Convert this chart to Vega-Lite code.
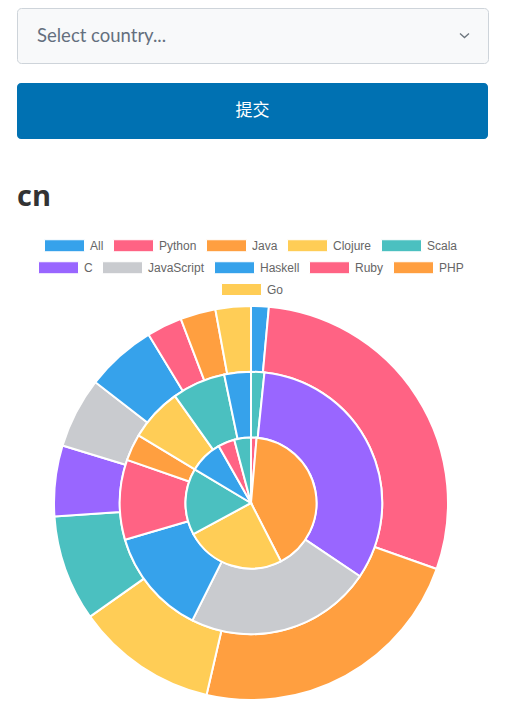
{
  "$schema": "https://vega.github.io/schema/vega-lite/v6.json",
  "padding": {"left": 16, "top": 7, "right": 0, "bottom": 0},
  "spacing": 44,
  "background": "#ffffff",
  "config": {"view": {"stroke": null}, "font": "Liberation Sans"},
  "resolve": {"scale": {"color": "independent", "theta": "independent"}, "legend": {"color": "independent"}},
  "vconcat": [
    {
      "spacing": 19,
      "resolve": {"scale": {"x": "independent"}},
      "vconcat": [
        {
          "width": 471,
          "height": 55,
          "view": {"fill": "#f8f9fa", "stroke": "#ced4da", "strokeWidth": 1, "cornerRadius": 4},
          "data": {"values": [{"part": "placeholder", "label": "Select country..."}, {"part": "arrow", "label": ""}]},
          "encoding": {
            "x": {"field": "part", "type": "nominal", "axis": null, "scale": {"type": "point", "domain": ["placeholder", "arrow"], "range": [20, 447.5], "padding": 0}}
          },
          "layer": [
            {
              "transform": [{"filter": "datum.part === 'placeholder'"}],
              "mark": {"type": "text", "align": "left", "baseline": "middle", "font": "Lato", "fontSize": 18.5, "color": "#646f7e"},
              "encoding": {"text": {"field": "label"}}
            },
            {
              "transform": [{"filter": "datum.part === 'arrow'"}],
              "mark": {"type": "point", "shape": "M-1,-0.45L0,0.45L1,-0.45", "size": 81, "filled": false, "stroke": "#6c757d", "strokeWidth": 1.3, "opacity": 1}
            }
          ]
        },
        {
          "width": 471,
          "height": 56,
          "view": {"fill": "#0071b2", "stroke": null, "cornerRadius": 4},
          "data": {"values": [{"label": "提交"}]},
          "mark": {"type": "text", "font": "Noto Sans CJK SC", "fontSize": 17, "color": "#ffffff", "baseline": "middle", "align": "center"},
          "encoding": {"text": {"field": "label"}}
        }
      ]
    },
    {
      "width": 468,
      "height": 394,
      "title": {"text": "cn", "anchor": "start", "font": "Open Sans", "fontSize": 29, "fontWeight": "bold", "color": "#333333", "offset": 37, "dy": 24},
      "data": {
        "values": [
          {"ring": "outer", "k": 0, "lang": "All", "count": 1},
          {"ring": "outer", "k": 1, "lang": "Python", "count": 20},
          {"ring": "outer", "k": 2, "lang": "Java", "count": 16},
          {"ring": "outer", "k": 3, "lang": "Clojure", "count": 8},
          {"ring": "outer", "k": 4, "lang": "Scala", "count": 6},
          {"ring": "outer", "k": 5, "lang": "C", "count": 4},
          {"ring": "outer", "k": 6, "lang": "JavaScript", "count": 4},
          {"ring": "outer", "k": 7, "lang": "Haskell", "count": 4},
          {"ring": "outer", "k": 8, "lang": "Ruby", "count": 2},
          {"ring": "outer", "k": 9, "lang": "PHP", "count": 2},
          {"ring": "outer", "k": 10, "lang": "Go", "count": 2},
          {"ring": "middle", "k": 0, "lang": "All", "count": 1},
          {"ring": "middle", "k": 1, "lang": "Python", "count": 20},
          {"ring": "middle", "k": 2, "lang": "Java", "count": 14},
          {"ring": "middle", "k": 3, "lang": "Clojure", "count": 8},
          {"ring": "middle", "k": 4, "lang": "Scala", "count": 6},
          {"ring": "middle", "k": 5, "lang": "C", "count": 2},
          {"ring": "middle", "k": 6, "lang": "JavaScript", "count": 4},
          {"ring": "middle", "k": 7, "lang": "Haskell", "count": 4},
          {"ring": "middle", "k": 8, "lang": "Ruby", "count": 0},
          {"ring": "middle", "k": 9, "lang": "PHP", "count": 0},
          {"ring": "middle", "k": 10, "lang": "Go", "count": 2},
          {"ring": "inner", "k": 0, "lang": "All", "count": 1},
          {"ring": "inner", "k": 1, "lang": "Python", "count": 30},
          {"ring": "inner", "k": 2, "lang": "Java", "count": 18},
          {"ring": "inner", "k": 3, "lang": "Clojure", "count": 12},
          {"ring": "inner", "k": 4, "lang": "Scala", "count": 0},
          {"ring": "inner", "k": 5, "lang": "C", "count": 0},
          {"ring": "inner", "k": 6, "lang": "JavaScript", "count": 6},
          {"ring": "inner", "k": 7, "lang": "Haskell", "count": 3},
          {"ring": "inner", "k": 8, "lang": "Ruby", "count": 0},
          {"ring": "inner", "k": 9, "lang": "PHP", "count": 0},
          {"ring": "inner", "k": 10, "lang": "Go", "count": 3}
        ]
      },
      "transform": [
        {"stack": "count", "groupby": ["ring"], "sort": [{"field": "k", "order": "ascending"}], "offset": "normalize", "as": ["t0", "t1"]},
        {"filter": "datum.count > 0"}
      ],
      "encoding": {
        "theta": {"field": "t0", "type": "quantitative", "scale": {"domain": [0, 1]}},
        "theta2": {"field": "t1"}
      },
      "layer": [
        {
          "transform": [{"filter": "datum.ring === 'outer' && datum.k <= 4"}],
          "mark": {"type": "arc", "radius": 197, "radius2": 131.2, "stroke": "#ffffff", "strokeWidth": 2},
          "encoding": {
            "color": {"field": "lang", "type": "nominal",
              "scale": {"domain": ["All", "Python", "Java", "Clojure", "Scala"], "range": ["#36A2EB", "#FF6384", "#FF9F40", "#FFCD56", "#4BC0C0"]},
              "legend": {"orient": "none", "legendX": 27, "legendY": -81, "direction": "horizontal", "title": null, "symbolType": "M-1,-0.3H1V0.3H-1Z", "symbolSize": 1600, "symbolStrokeColor": "#ffffff", "symbolStrokeWidth": 1, "symbolOpacity": 1, "labelFont": "Liberation Sans", "labelFontSize": 12, "labelColor": "#666666", "labelOffset": 5, "columnPadding": 7}}
          }
        },
        {
          "transform": [{"filter": "datum.ring === 'outer' && datum.k >= 5 && datum.k <= 9"}],
          "mark": {"type": "arc", "radius": 197, "radius2": 131.2, "stroke": "#ffffff", "strokeWidth": 2},
          "encoding": {
            "color": {"field": "lang", "type": "nominal",
              "scale": {"domain": ["C", "JavaScript", "Haskell", "Ruby", "PHP"], "range": ["#9966FF", "#C9CBCF", "#36A2EB", "#FF6384", "#FF9F40"]},
              "legend": {"orient": "none", "legendX": 21, "legendY": -59, "direction": "horizontal", "title": null, "symbolType": "M-1,-0.3H1V0.3H-1Z", "symbolSize": 1600, "symbolStrokeColor": "#ffffff", "symbolStrokeWidth": 1, "symbolOpacity": 1, "labelFont": "Liberation Sans", "labelFontSize": 12, "labelColor": "#666666", "labelOffset": 5, "columnPadding": 7}}
          }
        },
        {
          "transform": [{"filter": "datum.ring === 'outer' && datum.k == 10"}],
          "mark": {"type": "arc", "radius": 197, "radius2": 131.2, "stroke": "#ffffff", "strokeWidth": 2},
          "encoding": {
            "color": {"field": "lang", "type": "nominal",
              "scale": {"domain": ["Go"], "range": ["#FFCD56"]},
              "legend": {"orient": "none", "legendX": 204, "legendY": -37, "direction": "horizontal", "title": null, "symbolType": "M-1,-0.3H1V0.3H-1Z", "symbolSize": 1600, "symbolStrokeColor": "#ffffff", "symbolStrokeWidth": 1, "symbolOpacity": 1, "labelFont": "Liberation Sans", "labelFontSize": 12, "labelColor": "#666666", "labelOffset": 5, "columnPadding": 7}}
          }
        },
        {
          "transform": [{"filter": "datum.ring === 'middle'"}],
          "mark": {"type": "arc", "radius": 131.2, "radius2": 65.5, "stroke": "#ffffff", "strokeWidth": 2},
          "encoding": {
            "color": {"field": "lang", "type": "nominal", "legend": null,
              "scale": {"domain": ["All", "Python", "Java", "Clojure", "Scala", "C", "JavaScript", "Haskell", "Ruby", "PHP", "Go"],
                "range": ["#4BC0C0", "#9966FF", "#C9CBCF", "#36A2EB", "#FF6384", "#FF9F40", "#FFCD56", "#4BC0C0", "#9966FF", "#C9CBCF", "#36A2EB"]}}
          }
        },
        {
          "transform": [{"filter": "datum.ring === 'inner'"}],
          "mark": {"type": "arc", "radius": 65.5, "radius2": 0, "stroke": "#ffffff", "strokeWidth": 2},
          "encoding": {
            "color": {"field": "lang", "type": "nominal", "legend": null,
              "scale": {"domain": ["All", "Python", "Java", "Clojure", "Scala", "C", "JavaScript", "Haskell", "Ruby", "PHP", "Go"],
                "range": ["#FF6384", "#FF9F40", "#FFCD56", "#4BC0C0", "#9966FF", "#C9CBCF", "#36A2EB", "#FF6384", "#FF9F40", "#FFCD56", "#4BC0C0"]}}
          }
        }
      ],
      "resolve": {"scale": {"color": "independent"}, "legend": {"color": "independent"}}
    }
  ]
}
